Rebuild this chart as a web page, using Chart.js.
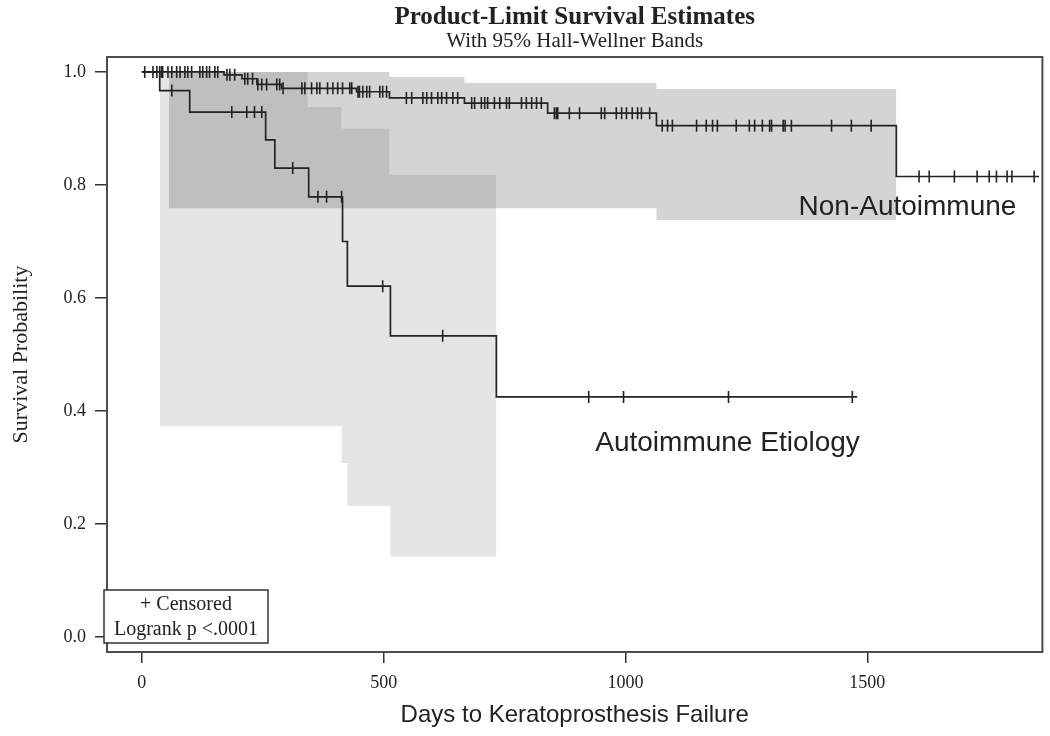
<!DOCTYPE html>
<html>
<head>
<meta charset="utf-8">
<script src="https://cdn.jsdelivr.net/npm/chart.js@4.4.1/dist/chart.umd.min.js"></script>
<style>
  html, body { margin: 0; padding: 0; background: #fff; }
  #wrap { width: 1050px; height: 736px; }
</style>
</head>
<body>
<div id="wrap"><canvas id="km" width="1050" height="736"></canvas></div>
<script>
// Kaplan-Meier steps (day where the new value starts, survival after it)
const nonAutoDays = [0, 170, 207, 238, 289, 444, 512, 667, 839, 1064, 1560, 1855];
const nonAutoSurv = [1.0, 0.995, 0.988, 0.978, 0.971, 0.965, 0.954, 0.945, 0.927, 0.905, 0.815, 0.815];

const autoDays = [0, 37, 99, 256, 275, 345, 415, 425, 514, 733, 1479];
const autoSurv = [1.0, 0.967, 0.929, 0.88, 0.83, 0.779, 0.70, 0.621, 0.533, 0.425, 0.425];

// censored observations (days)
const nonAutoCensored = [
  6, 23, 31, 37, 41, 43, 54, 62, 72, 79, 89, 95, 103, 120, 126, 134, 140, 151, 157, 176, 182, 192,
  213, 219, 229, 240, 248, 258, 279, 285, 292, 331, 337, 351, 362, 368, 384, 395, 405,
  415, 430, 434, 447, 450, 457, 465, 471, 492, 498, 506,
  547, 558, 581, 589, 599, 612, 620, 630, 643, 653,
  682, 688, 702, 709, 715, 729, 740, 754, 760, 785, 795, 806, 816, 826,
  853, 857, 860, 884, 905, 950, 957, 981, 992, 1002, 1014, 1025, 1033, 1050,
  1076, 1087, 1097, 1147, 1167, 1180, 1190, 1229, 1256, 1267, 1283, 1298, 1302, 1326, 1330, 1343,
  1426, 1467, 1508,
  1607, 1628, 1680, 1727, 1752, 1767, 1789, 1799, 1845
];
const autoCensored = [62, 186, 217, 233, 248, 312, 364, 382, 413, 498, 622, 924, 996, 1213, 1469];

// 95% Hall-Wellner bands
const autoUpperDays = [37, 343, 413, 512, 733];
const autoUpperVals = [1.0, 0.938, 0.90, 0.818, 0.818];
const autoLowerDays = [37, 413, 425, 514, 733];
const autoLowerVals = [0.373, 0.308, 0.232, 0.142, 0.142];

const nonAutoUpperDays = [56, 512, 667, 1064, 1560];
const nonAutoUpperVals = [1.0, 0.991, 0.981, 0.970, 0.970];
const nonAutoLowerDays = [56, 1064, 1560];
const nonAutoLowerVals = [0.759, 0.738, 0.738];

// axes
const xTicks = [0, 500, 1000, 1500];
const yTicks = [0.0, 0.2, 0.4, 0.6, 0.8, 1.0];

const toPts = (xs, ys) => xs.map((x, i) => ({ x: x, y: ys[i] }));

// value of a step curve at a given day
const stepAt = (days, surv, t) => {
  let v = surv[0];
  for (let i = 0; i < days.length; i++) {
    if (days[i] <= t) v = surv[i];
  }
  return v;
};

const censorPts = (list, days, surv) => list.map(t => ({ x: t, y: stepAt(days, surv, t) }));

const serif = "'Liberation Serif', 'Times New Roman', serif";
const sans = "'Liberation Sans', Arial, sans-serif";
const ink = "#222";

const band = (pts, fill, color) => ({
  data: pts,
  stepped: true,
  borderWidth: 0,
  borderColor: "transparent",
  backgroundColor: color,
  pointRadius: 0,
  fill: fill
});

const curve = (pts) => ({
  data: pts,
  stepped: true,
  borderColor: ink,
  borderWidth: 1.7,
  pointRadius: 0,
  fill: false
});

const censors = (pts) => ({
  data: pts,
  showLine: false,
  pointStyle: "line",
  pointRotation: 90,
  pointRadius: 6,
  pointBorderWidth: 1.6,
  pointBorderColor: ink,
  pointBackgroundColor: ink,
  fill: false
});

// titles, group labels, legend box and the plot frame
const paperLabels = {
  id: "paperLabels",
  afterDraw(chart) {
    const { ctx, chartArea: a, scales } = chart;
    const xs = scales.x, ys = scales.y;
    ctx.save();

    ctx.strokeStyle = "#4d4d4d";
    ctx.lineWidth = 2;
    ctx.strokeRect(a.left, a.top, a.right - a.left, a.bottom - a.top);

    const cx = (a.left + a.right) / 2;
    ctx.fillStyle = ink;
    ctx.textAlign = "center";
    ctx.textBaseline = "middle";
    ctx.font = "bold 25px " + serif;
    ctx.fillText("Product-Limit Survival Estimates", cx, 18);
    ctx.font = "21px " + serif;
    ctx.fillText("With 95% Hall-Wellner Bands", cx, 41);

    ctx.font = "28px " + sans;
    ctx.fillText("Non-Autoimmune", xs.getPixelForValue(1583), ys.getPixelForValue(0.76));
    ctx.fillText("Autoimmune Etiology", xs.getPixelForValue(1211), ys.getPixelForValue(0.343));

    // legend box
    const bx = a.left - 3, bw = 164, bh = 53, by = a.bottom - 9 - bh;
    ctx.fillStyle = "#fff";
    ctx.fillRect(bx, by, bw, bh);
    ctx.strokeStyle = "#333";
    ctx.lineWidth = 1.5;
    ctx.strokeRect(bx, by, bw, bh);
    ctx.fillStyle = ink;
    ctx.font = "20px " + serif;
    ctx.fillText("+ Censored", bx + bw / 2, by + 15);
    ctx.fillText("Logrank p <.0001", bx + bw / 2, by + 40);

    ctx.restore();
  }
};

new Chart(document.getElementById("km"), {
  type: "line",
  data: {
    datasets: [
      censors(censorPts(nonAutoCensored, nonAutoDays, nonAutoSurv)),
      censors(censorPts(autoCensored, autoDays, autoSurv)),
      curve(toPts(nonAutoDays, nonAutoSurv)),
      curve(toPts(autoDays, autoSurv)),
      band(toPts(nonAutoUpperDays, nonAutoUpperVals), "+1", "rgba(0,0,0,0.17)"),
      band(toPts(nonAutoLowerDays, nonAutoLowerVals), false, "rgba(0,0,0,0.17)"),
      band(toPts(autoUpperDays, autoUpperVals), "+1", "rgba(0,0,0,0.10)"),
      band(toPts(autoLowerDays, autoLowerVals), false, "rgba(0,0,0,0.10)")
    ]
  },
  options: {
    responsive: false,
    animation: false,
    events: [],
    layout: { padding: { left: 0, right: 7, top: 57, bottom: 0 } },
    plugins: {
      legend: { display: false },
      tooltip: { enabled: false },
      title: { display: false }
    },
    scales: {
      x: {
        type: "linear",
        min: -72,
        max: 1862,
        afterFit: (s) => { s.height = 84; },
        afterBuildTicks: (s) => { s.ticks = xTicks.map(v => ({ value: v })); },
        border: { display: false },
        grid: { drawOnChartArea: false, drawTicks: true, tickLength: 11, tickColor: "#333", lineWidth: 1.5 },
        ticks: {
          color: ink,
          font: { family: serif, size: 18 },
          padding: 9,
          maxRotation: 0,
          callback: (v) => String(v)
        },
        title: {
          display: true,
          text: "Days to Keratoprosthesis Failure",
          color: ink,
          font: { family: sans, size: 24 },
          padding: { top: 0, bottom: 6 }
        }
      },
      y: {
        type: "linear",
        min: -0.0265,
        max: 1.0265,
        afterFit: (s) => { s.width = 107; },
        afterBuildTicks: (s) => { s.ticks = yTicks.map(v => ({ value: v })); },
        border: { display: false },
        grid: { drawOnChartArea: false, drawTicks: true, tickLength: 12, tickColor: "#333", lineWidth: 1.5 },
        ticks: {
          color: ink,
          font: { family: serif, size: 18 },
          padding: 9,
          callback: (v) => v.toFixed(1)
        },
        title: {
          display: true,
          text: "Survival Probability",
          color: ink,
          font: { family: serif, size: 22 },
          padding: { top: 8, bottom: 0 }
        }
      }
    }
  },
  plugins: [paperLabels]
});
</script>
</body>
</html>
